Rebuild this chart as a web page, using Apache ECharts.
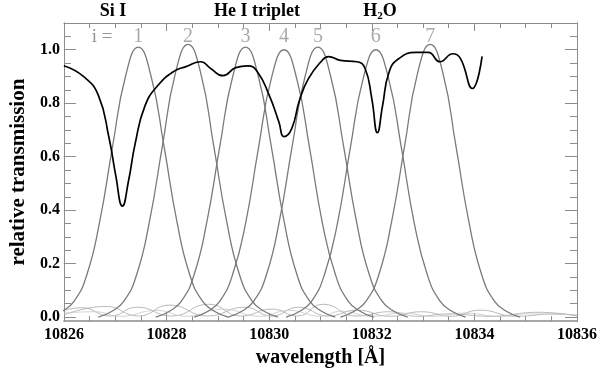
<!DOCTYPE html>
<html>

<head>
    <meta charset="UTF-8">
    <script type="text/javascript" src="https://cdn.jsdelivr.net/npm/echarts@6.0.0/dist/echarts.min.js"></script>
    <title>filter transmission</title>
    <style>
        html, body { margin: 0; padding: 0; background: #fff; }
        #chart { width: 600px; height: 373px; }
    </style>
</head>

<body>
    <div id="chart"></div>
    <script type="text/javascript">
    //-----------------------------------------------------------------------------------------
    // data
    //-----------------------------------------------------------------------------------------
    var xTicks = [10826, 10828, 10830, 10832, 10834, 10836];
    var yTicks = [0, 0.2, 0.4, 0.6, 0.8, 1.0];
    var yMinorTicks = [0, 0.05, 0.1, 0.15, 0.2, 0.25, 0.3, 0.35, 0.4, 0.45, 0.5, 0.55, 0.6, 0.65, 0.7, 0.75, 0.8, 0.85, 0.9, 0.95, 1.0, 1.05];
    var lineNames = ['Si I', 'He I triplet', 'H2O'];

    // filter centres (for the i = 1..7 labels)
    var filterIndex = [1, 2, 3, 4, 5, 6, 7];
    var filterCenters = [10827.45, 10828.42, 10829.54, 10830.29, 10830.95, 10832.08, 10833.14];

    // transmission profiles of the 7 filter positions
    var filter1 = [[10825.70, 0], [10825.95, 0.02], [10826.20, 0.06], [10826.45, 0.16], [10826.70, 0.36], [10826.95, 0.64], [10827.20, 0.90], [10827.45, 1.01], [10827.70, 0.90], [10827.95, 0.64], [10828.20, 0.36], [10828.45, 0.16], [10828.70, 0.06], [10828.95, 0.02], [10829.20, 0]];
    var filter2 = [[10826.67, 0], [10826.92, 0.02], [10827.17, 0.06], [10827.42, 0.16], [10827.67, 0.36], [10827.92, 0.64], [10828.17, 0.91], [10828.42, 1.02], [10828.67, 0.91], [10828.92, 0.64], [10829.17, 0.36], [10829.42, 0.16], [10829.67, 0.06], [10829.92, 0.02], [10830.17, 0]];
    var filter3 = [[10827.79, 0], [10828.04, 0.02], [10828.29, 0.06], [10828.54, 0.16], [10828.79, 0.36], [10829.04, 0.64], [10829.29, 0.90], [10829.54, 1.01], [10829.79, 0.90], [10830.04, 0.64], [10830.29, 0.36], [10830.54, 0.16], [10830.79, 0.06], [10831.04, 0.02], [10831.29, 0]];
    var filter4 = [[10828.54, 0], [10828.79, 0.02], [10829.04, 0.06], [10829.29, 0.16], [10829.54, 0.35], [10829.79, 0.63], [10830.04, 0.89], [10830.29, 1.00], [10830.54, 0.89], [10830.79, 0.63], [10831.04, 0.35], [10831.29, 0.16], [10831.54, 0.06], [10831.79, 0.02], [10832.04, 0]];
    var filter5 = [[10829.20, 0], [10829.45, 0.02], [10829.70, 0.06], [10829.95, 0.16], [10830.20, 0.36], [10830.45, 0.64], [10830.70, 0.90], [10830.95, 1.01], [10831.20, 0.90], [10831.45, 0.64], [10831.70, 0.36], [10831.95, 0.16], [10832.20, 0.06], [10832.45, 0.02], [10832.70, 0]];
    var filter6 = [[10830.33, 0], [10830.58, 0.02], [10830.83, 0.06], [10831.08, 0.16], [10831.33, 0.35], [10831.58, 0.63], [10831.83, 0.89], [10832.08, 1.00], [10832.33, 0.89], [10832.58, 0.63], [10832.83, 0.35], [10833.08, 0.16], [10833.33, 0.06], [10833.58, 0.02], [10833.83, 0]];
    var filter7 = [[10831.39, 0], [10831.64, 0.02], [10831.89, 0.06], [10832.14, 0.16], [10832.39, 0.36], [10832.64, 0.64], [10832.89, 0.91], [10833.14, 1.02], [10833.39, 0.91], [10833.64, 0.64], [10833.89, 0.36], [10834.14, 0.16], [10834.39, 0.06], [10834.64, 0.02], [10834.89, 0]];

    // side lobes near zero
    var sideA = [[10826, 0.025], [10826.34, 0.035], [10826.9, 0.004], [10827.43, 0.037], [10828.1, 0.004], [10828.82, 0.048], [10829.45, 0.004], [10830.06, 0.03], [10830.55, 0.004], [10831.05, 0.048], [10831.7, 0.004], [10832.34, 0.02], [10832.9, 0.003], [10833.49, 0.012], [10834.3, 0.003], [10835.26, 0.018], [10836, 0.004]];
    var sideB = [[10826, 0.008], [10826.82, 0.04], [10827.45, 0.004], [10828.06, 0.045], [10828.8, 0.004], [10829.52, 0.037], [10830.05, 0.004], [10830.57, 0.037], [10831.15, 0.004], [10831.71, 0.026], [10832.35, 0.003], [10832.97, 0.02], [10833.55, 0.003], [10834.11, 0.026], [10834.8, 0.003], [10835.6, 0.012], [10836, 0.006]];
    var sideC = [[10826, 0.015], [10826.6, 0.02], [10827.1, 0.003], [10827.8, 0.025], [10828.4, 0.003], [10829.1, 0.03], [10829.8, 0.003], [10830.4, 0.025], [10831.0, 0.003], [10831.4, 0.022], [10832.0, 0.003], [10832.6, 0.015], [10833.2, 0.003], [10833.8, 0.015], [10834.5, 0.003], [10835.0, 0.012], [10836, 0.008]];

    // solar spectrum (black)
    var spectrum = [
        [10826.00, 0.94], [10826.38, 0.90], [10826.67, 0.83], [10826.88, 0.67], [10827.01, 0.53],
        [10827.14, 0.415], [10827.26, 0.51], [10827.39, 0.65], [10827.58, 0.79], [10827.83, 0.866],
        [10828.15, 0.92], [10828.38, 0.937], [10828.67, 0.955], [10828.86, 0.93], [10829.10, 0.903],
        [10829.35, 0.933], [10829.58, 0.94], [10829.77, 0.918], [10830.00, 0.83], [10830.19, 0.73],
        [10830.29, 0.675], [10830.44, 0.705], [10830.59, 0.81], [10830.76, 0.89], [10831.01, 0.955],
        [10831.16, 0.974], [10831.39, 0.96], [10831.71, 0.955], [10831.87, 0.93], [10832.00, 0.818],
        [10832.11, 0.69], [10832.21, 0.79], [10832.34, 0.918], [10832.53, 0.967], [10832.86, 0.99],
        [10833.10, 0.99], [10833.33, 0.955], [10833.58, 0.985], [10833.73, 0.967], [10833.96, 0.855],
        [10834.15, 0.975]
    ];

    //-----------------------------------------------------------------------------------------
    // chart
    //-----------------------------------------------------------------------------------------
    var serif = '"Liberation Serif", "DejaVu Serif", serif';
    var frameColor = '#8c8c8c';

    function chartInit() {
        var myChart = echarts.init(document.getElementById('chart'), null, { renderer: 'canvas' });

        var filters = [filter1, filter2, filter3, filter4, filter5, filter6, filter7];
        var series = [];

        [sideA, sideB, sideC].forEach(function (d, k) {
            series.push({
                type: 'line', data: d, smooth: 0.5, symbol: 'none', silent: true,
                lineStyle: { color: k == 2 ? '#c8c8c8' : '#a8a8a8', width: 0.8 }
            });
        });

        filters.forEach(function (d) {
            series.push({
                type: 'line', data: d, smooth: 0.5, symbol: 'none', silent: true,
                lineStyle: { color: '#7a7a7a', width: 1.3 }
            });
        });

        series.push({
            type: 'line', data: spectrum, smooth: 0.5, symbol: 'none', silent: true,
            lineStyle: { color: '#000', width: 1.7 }, z: 5
        });

        // i = 1..7 labels above the peaks
        series.push({
            type: 'scatter', symbolSize: 0, silent: true,
            data: filterCenters.map(function (c, k) { return [c, 1.05, filterIndex[k]]; }),
            label: {
                show: true, position: 'inside',
                formatter: function (p) { return p.value[2]; },
                fontFamily: serif, fontSize: 20, color: '#959595'
            }
        });

        var tickBase = {
            type: 'value', min: -0.015, max: 1.1, splitLine: { show: false },
            axisLine: { show: true, lineStyle: { color: frameColor, width: 1 } }
        };

        var option = {
            animation: false,
            grid: { left: 57, right: 17, top: 23, bottom: 49 },
            xAxis: [{
                type: 'value', min: xTicks[0], max: xTicks[xTicks.length - 1], interval: 2, position: 'bottom',
                axisLine: { show: true, onZero: false, lineStyle: { color: frameColor, width: 1.5 } },
                axisTick: { inside: true, length: 8, lineStyle: { color: frameColor } },
                minorTick: { show: true, splitNumber: 4, length: 5, lineStyle: { color: frameColor } },
                splitLine: { show: false },
                axisLabel: {
                    margin: 6, formatter: function (v) { return String(v); },
                    fontFamily: serif, fontWeight: 'bold', fontSize: 16, color: '#000'
                },
                name: 'wavelength [Å]', nameLocation: 'middle', nameGap: 24,
                nameTextStyle: { fontFamily: serif, fontWeight: 'bold', fontSize: 20, color: '#000' }
            }, {
                type: 'value', min: xTicks[0], max: xTicks[xTicks.length - 1], interval: 2, position: 'top',
                axisLine: { show: true, onZero: false, lineStyle: { color: frameColor, width: 1 } },
                axisTick: { inside: true, length: 8, lineStyle: { color: frameColor } },
                minorTick: { show: true, splitNumber: 4, length: 5, lineStyle: { color: frameColor } },
                splitLine: { show: false },
                axisLabel: { show: false }
            }],
            yAxis: [
                Object.assign({}, tickBase, {
                    position: 'left', offset: 0,
                    axisTick: { inside: true, length: 12, customValues: yTicks, lineStyle: { color: frameColor } },
                    axisLabel: {
                        customValues: yTicks, margin: 4,
                        formatter: function (v) { return v.toFixed(1); },
                        fontFamily: serif, fontWeight: 'bold', fontSize: 16, color: '#000'
                    },
                    name: 'relative transmission', nameLocation: 'middle', nameGap: 31,
                    nameTextStyle: { fontFamily: serif, fontWeight: 'bold', fontSize: 21, color: '#000' }
                }),
                Object.assign({}, tickBase, {
                    position: 'left', offset: 0,
                    axisTick: { inside: true, length: 7, customValues: yMinorTicks, lineStyle: { color: frameColor } },
                    axisLabel: { show: false }
                }),
                Object.assign({}, tickBase, {
                    position: 'right', offset: 0,
                    axisTick: { inside: true, length: 12, customValues: yTicks, lineStyle: { color: frameColor } },
                    axisLabel: { show: false }
                }),
                Object.assign({}, tickBase, {
                    position: 'right', offset: 0,
                    axisTick: { inside: true, length: 7, customValues: yMinorTicks, lineStyle: { color: frameColor } },
                    axisLabel: { show: false }
                })
            ],
            graphic: [
                { type: 'text', x: 113, y: 11, style: { text: lineNames[0], font: 'bold 18px ' + serif, fill: '#000', align: 'center', verticalAlign: 'middle' } },
                { type: 'text', x: 257, y: 11, style: { text: lineNames[1], font: 'bold 18px ' + serif, fill: '#000', align: 'center', verticalAlign: 'middle' } },
                {
                    type: 'text', x: 380, y: 11,
                    style: {
                        text: '{a|H}{b|2}{a|O}', align: 'center', verticalAlign: 'middle',
                        rich: {
                            a: { fontFamily: serif, fontWeight: 'bold', fontSize: 18, fill: '#000', lineHeight: 22 },
                            b: { fontFamily: serif, fontWeight: 'bold', fontSize: 11, fill: '#000', lineHeight: 22, verticalAlign: 'bottom' }
                        }
                    }
                },
                { type: 'text', x: 102, y: 37, style: { text: 'i =', font: '19px ' + serif, fill: '#959595', align: 'center', verticalAlign: 'middle' } }
            ],
            series: series
        };
        myChart.setOption(option);
    }
    chartInit();
    </script>
</body>

</html>
